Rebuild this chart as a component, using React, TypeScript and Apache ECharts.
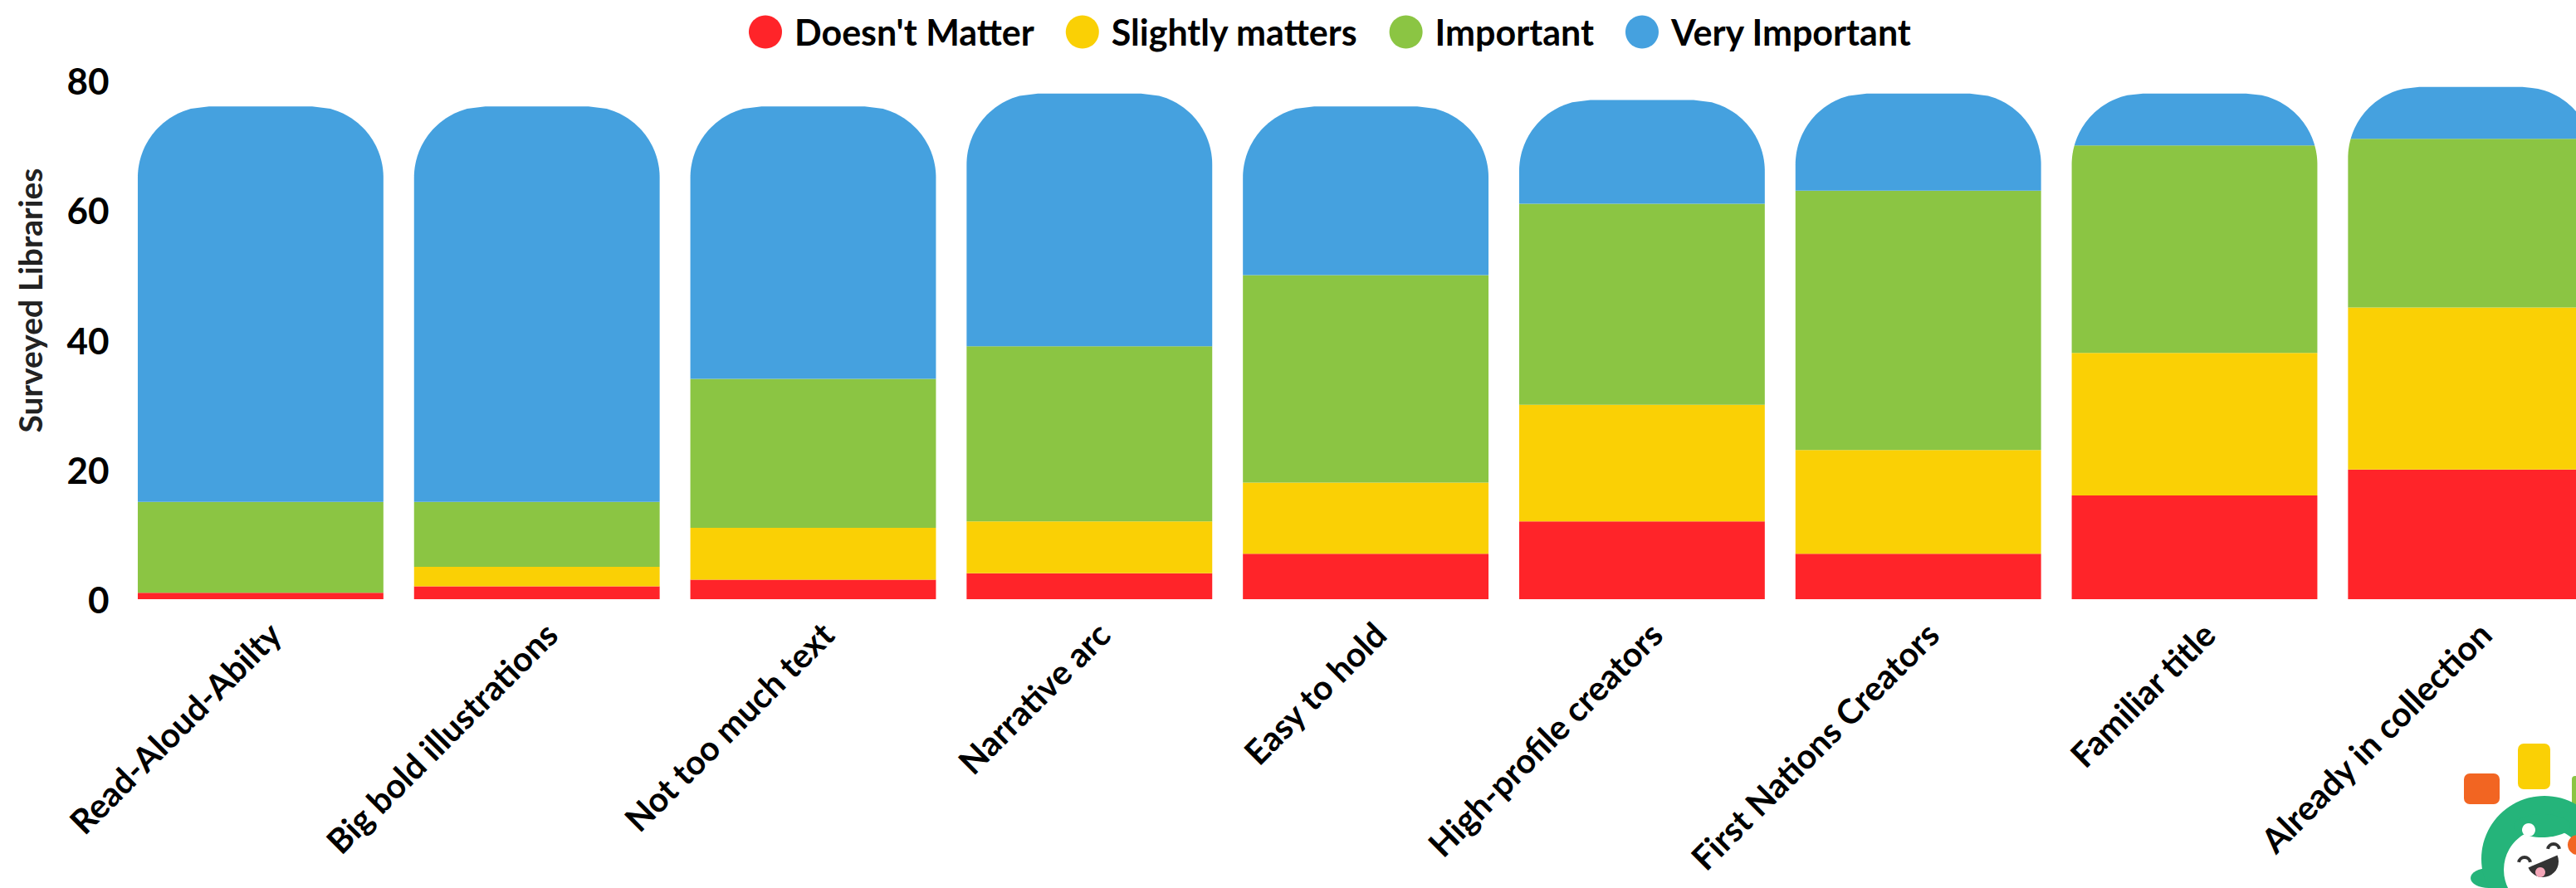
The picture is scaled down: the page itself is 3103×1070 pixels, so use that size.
import React, { useEffect, useRef } from "react";
import * as echarts from "echarts";

const categories = [
  "Read-Aloud-Abilty",
  "Big bold illustrations",
  "Not too much text",
  "Narrative arc",
  "Easy to hold",
  "High-profile creators",
  "First Nations Creators",
  "Familiar title",
  "Already in collection",
];
const doesntMatter = [1, 2, 3, 4, 7, 12, 7, 16, 20];
const slightlyMatters = [0, 3, 8, 8, 11, 18, 16, 22, 25];
const important = [14, 10, 23, 27, 32, 31, 40, 32, 26];
const veryImportant = [61, 61, 42, 39, 26, 16, 15, 8, 8];

const seriesNames = ["Doesn't Matter", "Slightly matters", "Important", "Very Important"];
const seriesColors = ["#FF2429", "#FAD005", "#8BC543", "#45A1DF"];
const yMin = 0;
const yMax = 80;
const yInterval = 20;

const levels = [doesntMatter, slightlyMatters, important, veryImportant];
const totals = categories.map((_, i) => levels.reduce((s, arr) => s + arr[i], 0));

function stackedData(k: number) {
  return categories.map((_, i) => {
    let base = 0;
    for (let j = 0; j < k; j++) base += levels[j][i];
    return [i, base, base + levels[k][i]];
  });
}

const BAR_RATIO = 0.889;
const RADIUS_RATIO = 0.29;

function makeRender(k: number) {
  return (params: any, api: any) => {
    const idx = api.value(0);
    const lo = api.value(1);
    const hi = api.value(2);
    if (hi <= lo) return null;
    const total = totals[idx];
    const band = api.size([1, 0])[0];
    const w = band * BAR_RATIO;
    const pLo = api.coord([idx, lo]);
    const pHi = api.coord([idx, hi]);
    const pTop = api.coord([idx, total]);
    const cx = pLo[0];
    const xl = cx - w / 2;
    const r = w * RADIUS_RATIO;
    const yt = pTop[1];
    const yBottom = pLo[1];
    const yUpper = pHi[1];
    const curveStart = yt + r;
    const left: number[][] = [[xl, yBottom]];
    if (yUpper < curveStart) {
      const from = Math.min(yBottom, curveStart);
      const steps = 30;
      for (let s = 0; s <= steps; s++) {
        const y = from + ((yUpper - from) * s) / steps;
        const dy = curveStart - y;
        const dx = r - Math.sqrt(Math.max(0, r * r - dy * dy));
        left.push([xl + dx, y]);
      }
    } else {
      left.push([xl, yUpper]);
    }
    const right = left.map(([x, y]) => [2 * cx - x, y]).reverse();
    return {
      type: "polygon",
      shape: { points: left.concat(right) },
      style: { fill: seriesColors[k] },
    };
  };
}

const FONT = "Lato, 'Open Sans', sans-serif";

export default function App() {
  const ref = useRef<HTMLDivElement>(null);
  useEffect(() => {
    if (!ref.current) return;
    const chart = echarts.init(ref.current, undefined, { renderer: "svg" });
    const option: any = {
      animation: false,
      backgroundColor: "#ffffff",
      legend: {
        data: seriesNames,
        left: 897,
        top: 12,
        icon: "circle",
        itemWidth: 40,
        itemHeight: 40,
        itemGap: 38,
        textStyle: {
          fontSize: 43,
          fontWeight: "bold",
          color: "#000",
          fontFamily: FONT,
          padding: [0, 0, 0, 10],
        },
      },
      grid: {
        left: 147.5,
        right: -39.7,
        top: 97,
        bottom: 348,
        containLabel: false,
        outerBoundsMode: "none",
      },
      xAxis: {
        type: "category",
        data: categories,
        axisLine: { show: false },
        axisTick: { show: false },
        splitLine: { show: false },
        axisLabel: {
          interval: 0,
          rotate: 45,
          margin: 52,
          fontSize: 41,
          fontWeight: "bold",
          color: "#000",
          fontFamily: FONT,
          padding: [0, -24, 0, 0],
        },
      },
      yAxis: {
        type: "value",
        min: yMin,
        max: yMax,
        interval: yInterval,
        axisLine: { show: false },
        axisTick: { show: false },
        splitLine: { show: false },
        axisLabel: {
          margin: 16,
          fontSize: 44,
          fontWeight: "bold",
          color: "#000",
          fontFamily: FONT,
        },
      },
      graphic: [
        {
          type: "text",
          x: 36,
          y: 362,
          rotation: Math.PI / 2,
          style: {
            text: "Surveyed Libraries",
            fontSize: 39,
            fontWeight: "bold",
            fontFamily: FONT,
            fill: "#222",
            align: "center",
            verticalAlign: "middle",
          },
        },
        { type: "rect", shape: { x: 2968, y: 932, width: 43, height: 37, r: 7 }, style: { fill: "#F26522" } },
        { type: "rect", shape: { x: 3033, y: 896, width: 39, height: 55, r: 7 }, style: { fill: "#FAD005" } },
        { type: "rect", shape: { x: 3098, y: 935, width: 12, height: 40, r: 4 }, style: { fill: "#8BC543" } },
        { type: "ellipse", shape: { cx: 2998, cy: 1058, rx: 22, ry: 12 }, style: { fill: "#25B47A" } },
        { type: "circle", shape: { cx: 3065, cy: 1035, r: 76 }, style: { fill: "#25B47A" } },
        { type: "circle", shape: { cx: 3066, cy: 1048, r: 50 }, style: { fill: "#ffffff" } },
        { type: "ellipse", shape: { cx: 3062, cy: 995, rx: 34, ry: 14 }, style: { fill: "#25B47A" } },
        { type: "circle", shape: { cx: 3046, cy: 1000, r: 8 }, style: { fill: "#ffffff" } },
        { type: "circle", shape: { cx: 3105, cy: 1018, r: 12 }, style: { fill: "#F26522" } },
        {
          type: "arc",
          shape: { cx: 3041, cy: 1040, r: 7, startAngle: Math.PI * 1.05, endAngle: Math.PI * 1.95 },
          style: { stroke: "#333", lineWidth: 4, fill: "none" },
        },
        {
          type: "arc",
          shape: { cx: 3076, cy: 1024, r: 7, startAngle: Math.PI * 1.05, endAngle: Math.PI * 1.95 },
          style: { stroke: "#333", lineWidth: 4, fill: "none" },
        },
        {
          type: "sector",
          shape: { cx: 3063, cy: 1038, r0: 0, r: 19, startAngle: -0.4, endAngle: Math.PI - 0.4, clockwise: true },
          style: { fill: "#333" },
        },
        { type: "circle", shape: { cx: 3060, cy: 1051, r: 6 }, style: { fill: "#F4A6B8" } },
      ],
      series: levels.map((_, k) => ({
        type: "custom",
        name: seriesNames[k],
        renderItem: makeRender(k),
        data: stackedData(k),
        encode: { x: 0, y: [1, 2] },
        itemStyle: { color: seriesColors[k] },
        clip: false,
      })),
    };
    chart.setOption(option);
    return () => chart.dispose();
  }, []);
  return (
    <div
      ref={ref}
      style={{ position: "fixed", left: 0, top: 0, width: 3103, height: 1070 }}
    />
  );
}
